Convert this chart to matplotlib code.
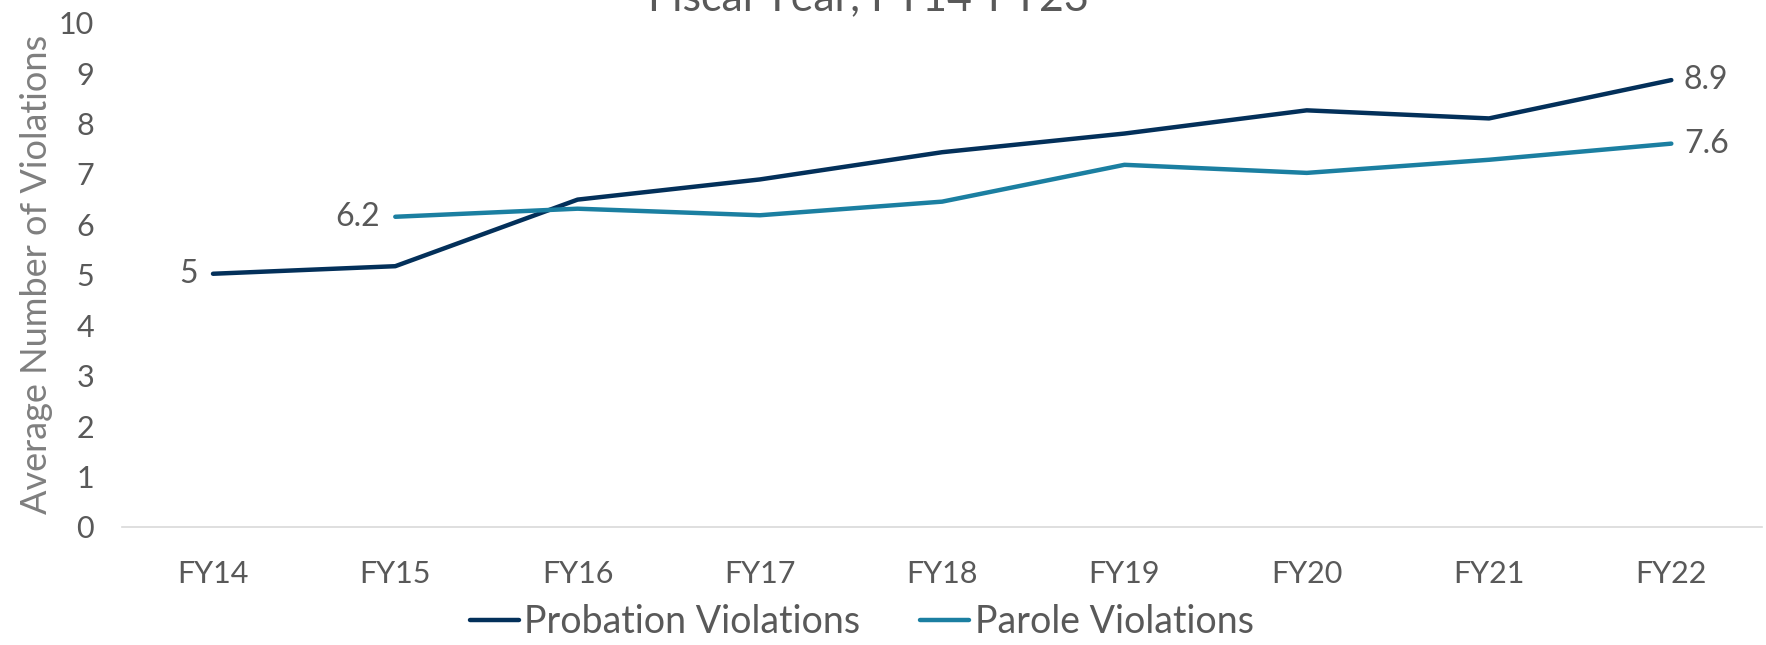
import numpy as np
from matplotlib import pyplot as plt

years = ['FY14', 'FY15', 'FY16', 'FY17', 'FY18', 'FY19', 'FY20', 'FY21', 'FY22']
probation = [5.02, 5.17, 6.49, 6.89, 7.43, 7.80, 8.26, 8.10, 8.86]
parole = [np.nan, 6.15, 6.31, 6.18, 6.45, 7.18, 7.02, 7.28, 7.60]

navy = '#03305A'
teal = '#1B7FA1'
grey = '#595959'

plt.rcParams['font.family'] = ['Lato', 'DejaVu Sans']

fig = plt.figure(figsize=(17.66, 6.45), dpi=100)
ax = fig.add_axes([0.069, 0.183, 0.929, 0.782])

x = np.arange(len(years))
ax.plot(x, probation, color=navy, linewidth=3.2, solid_capstyle='round',
        label='Probation Violations')
ax.plot(x, parole, color=teal, linewidth=3.2, solid_capstyle='round',
        label='Parole Violations')

# data labels at the ends of each line
ax.annotate('5', (x[0], probation[0]), xytext=(-11, 0), textcoords='offset points',
            ha='right', va='center', fontsize=23, color=grey)
ax.annotate('6.2', (x[1], parole[1]), xytext=(-11, 0), textcoords='offset points',
            ha='right', va='center', fontsize=23, color=grey)
ax.annotate('8.9', (x[-1], probation[-1]), xytext=(9, 0), textcoords='offset points',
            ha='left', va='center', fontsize=23, color=grey)
ax.annotate('7.6', (x[-1], parole[-1]), xytext=(9, 0), textcoords='offset points',
            ha='left', va='center', fontsize=23, color=grey)

ax.set_xlim(-0.5, len(years) - 0.5)
ax.set_ylim(0, 10)
ax.set_yticks(range(0, 11))
ax.set_xticks(x)
ax.set_xticklabels(years)
ax.tick_params(axis='both', length=0, labelsize=22, labelcolor=grey)
ax.tick_params(axis='x', pad=24)
ax.tick_params(axis='y', pad=20)

ax.set_ylabel('Average Number of Violations', fontsize=26, color='#7F7F7F', labelpad=4)

ax.spines['right'].set_visible(False)
ax.spines['top'].set_visible(False)
ax.spines['left'].set_visible(False)
ax.spines['bottom'].set_color('#D9D9D9')
ax.spines['bottom'].set_linewidth(1.2)

# title sits mostly above the visible area
fig.text(0.4915, 0.9845, 'Fiscal Year, FY14-FY23', ha='center', va='baseline',
         fontsize=31, color=grey)

fig.legend(loc='center', bbox_to_anchor=(0.488, 0.036), ncol=2, frameon=False,
           fontsize=27, labelcolor=grey, handlelength=1.3, handletextpad=0.15,
           columnspacing=1.6)

fig.savefig('out.png', dpi=100)
